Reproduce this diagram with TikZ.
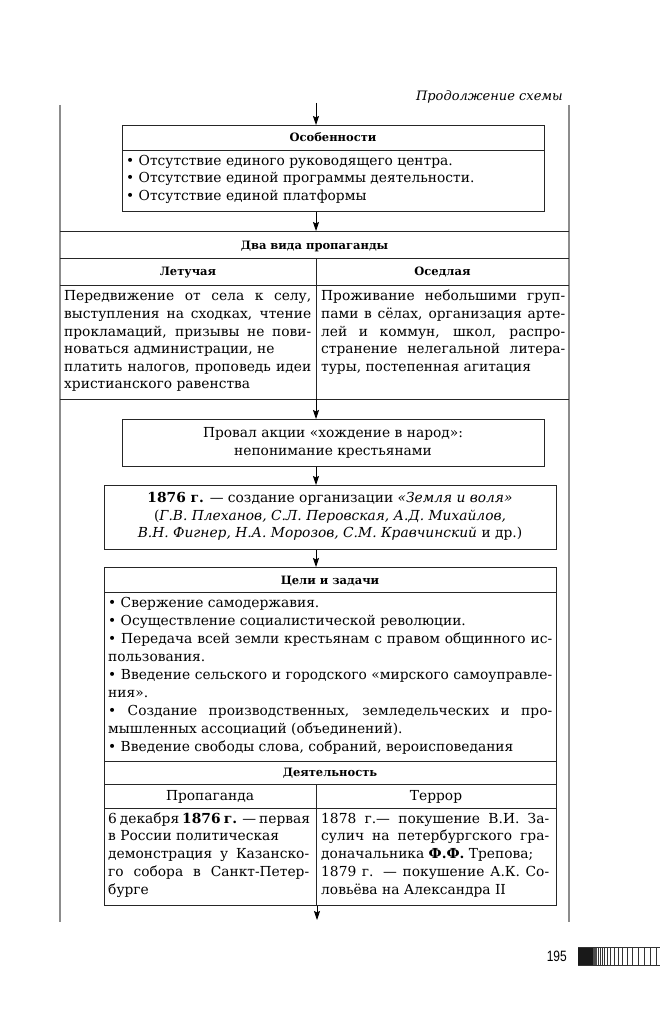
\documentclass[tikz,border=0pt]{standalone}
\usepackage{fontspec}
\setmainfont{DejaVu Serif}
\newfontfamily\pgnumfont{Liberation Sans}
\usepackage{graphicx}
\usetikzlibrary{arrows.meta}
\newcommand{\J}[2]{\makebox[#1pt][s]{\strut #2}}
\newcommand{\N}[1]{\strut #1}
\tikzset{
  frame/.style={draw=black!85, line width=0.8pt},
  sideline/.style={draw=black!45, line width=1.6pt},
  arr/.style={draw=black, line width=0.8pt, -{Stealth[length=9pt,width=6pt,inset=1.5pt]}},
  hd/.style={font=\fontsize{11.5}{14}\selectfont\bfseries, inner sep=0, anchor=base},
  txt/.style={font=\fontsize{13.8}{17.6}\selectfont, inner sep=0, anchor=north west, align=left},
  ctxt/.style={font=\fontsize{13.8}{17.6}\selectfont, inner sep=0, anchor=north, align=center},
  boxn/.style={anchor=north west, inner sep=0},
}
\begin{document}
\begin{tikzpicture}[x=1pt,y=-1pt]
\useasboundingbox[fill=white] (0,0) rectangle (660,1024);

% header
\node[font=\fontsize{13}{15}\selectfont\itshape, anchor=base east, inner sep=0] (cont) at (563,101) {Продолжение схемы};

% side lines
\coordinate (L1) at (60,105); \coordinate (L2) at (60,922);
\coordinate (R1) at (569,105); \coordinate (R2) at (569,922);
\draw[sideline] (L1) -- (L2);
\draw[sideline] (R1) -- (R2);

\coordinate (ax) at (316,0);
\coordinate (topa) at (316,103);

% ---- Особенности
\node[boxn, frame, minimum width=422, minimum height=86] (osob) at (122,125) {};
\draw[frame] (122,150) -- (544,150);
\node[hd] (osobT) at (333,141.5) {Особенности};
\node[txt, font=\fontsize{13.8}{17.5}\selectfont] (osobL) at (126,152.6) {%
\N{\textbullet\ Отсутствие единого руководящего центра.}\\
\N{\textbullet\ Отсутствие единой программы деятельности.}\\
\N{\textbullet\ Отсутствие единой платформы}};

% ---- Два вида пропаганды
\node[boxn, minimum width=509, minimum height=168] (dva) at (60,231) {};
\draw[frame] (dva.north west) -- (dva.north east);
\draw[frame] (60,258) -- (569,258);
\draw[frame] (60,285) -- (569,285);
\draw[frame] (dva.south west) -- (dva.south east);
\draw[frame] (316,258) -- (316,399);
\node[hd] (dvaT) at (314.5,249) {Два вида пропаганды};
\node[hd] (letT) at (188,275) {Летучая};
\node[hd] (osedT) at (442.5,275) {Оседлая};
\node[txt] (letL) at (64,288.4) {%
\J{247}{Передвижение от села к селу,}\\
\J{247}{выступления на сходках, чтение}\\
\J{247}{прокламаций, призывы не пови-}\\
\N{новаться администрации, не}\\
\J{247}{платить налогов, проповедь идеи}\\
\N{христианского равенства}};
\node[txt] (osedL) at (321,288.4) {%
\J{244}{Проживание небольшими груп-}\\
\J{244}{пами в сёлах, организация арте-}\\
\J{244}{лей и коммун, школ, распро-}\\
\J{244}{странение нелегальной литера-}\\
\N{туры, постепенная агитация}};

% ---- Провал
\node[boxn, frame, minimum width=422, minimum height=47] (prov) at (122,419) {};
\node[ctxt, font=\fontsize{13.8}{18}\selectfont] (provT) at (333,424.4) {%
\strut Провал акции «хождение в народ»:\\
\strut непонимание крестьянами};

% ---- 1876
\node[boxn, frame, minimum width=452, minimum height=64] (zem) at (104,485) {};
\node[ctxt, font=\fontsize{13.8}{17.5}\selectfont] (zemT) at (330,490.4) {%
\strut\textbf{1876 г.} — создание организации \textit{«Земля и воля»}\\
\strut(\textit{Г.В. Плеханов, С.Л. Перовская, А.Д. Михайлов,}\\
\strut\textit{В.Н. Фигнер, Н.А. Морозов, С.М. Кравчинский} и др.)};

% ---- Цели и задачи / Деятельность
\node[boxn, frame, minimum width=452, minimum height=338] (celi) at (104,567) {};
\draw[frame] (104,592) -- (556,592);
\draw[frame] (104,761) -- (556,761);
\draw[frame] (104,784) -- (556,784);
\draw[frame] (104,808) -- (556,808);
\draw[frame] (316,784) -- (316,905);
\node[hd] (celiT) at (330,584) {Цели и задачи};
\node[txt, font=\fontsize{13.8}{18}\selectfont] (celiL) at (108,594.4) {%
\N{\textbullet\ Свержение самодержавия.}\\
\N{\textbullet\ Осуществление социалистической революции.}\\
\J{444}{\textbullet\ Передача всей земли крестьянам с правом общинного ис-}\\
\N{пользования.}\\
\J{444}{\textbullet\ Введение сельского и городского «мирского самоуправле-}\\
\N{ния».}\\
\J{444}{\textbullet\ Создание производственных, земледельческих и про-}\\
\N{мышленных ассоциаций (объединений).}\\
\N{\textbullet\ Введение свободы слова, собраний, вероисповедания}};
\node[hd] (deyT) at (330,776.5) {Деятельность};
\node[font=\fontsize{13.8}{17.6}\selectfont, inner sep=0, anchor=base] (propT) at (210,800.5) {Пропаганда};
\node[font=\fontsize{13.8}{17.6}\selectfont, inner sep=0, anchor=base] (terT) at (436,800.5) {Террор};
\node[txt, font=\fontsize{13.8}{17.75}\selectfont] (propL) at (108,810.4) {%
\J{201}{6 декабря \textbf{1876 г.} — первая}\\
\N{в России политическая}\\
\J{201}{демонстрация у Казанско-}\\
\J{201}{го собора в Санкт-Петер-}\\
\N{бурге}};
\node[txt, font=\fontsize{13.8}{17.75}\selectfont] (terL) at (321,810.4) {%
\J{228}{1878 г.— покушение В.И. За-}\\
\J{228}{сулич на петербургского гра-}\\
\N{доначальника \textbf{Ф.Ф.} Трепова;}\\
\J{228}{1879 г. — покушение А.К. Со-}\\
\N{ловьёва на Александра II}};
\coordinate (bot) at (317,920);

% ---- arrows
\draw[arr] (topa) -- (topa |- osob.north);
\draw[arr] (osob.south -| ax) -- (dva.north -| ax);
\draw[arr] (dva.south -| ax) -- (prov.north -| ax);
\draw[arr] (prov.south -| ax) -- (zem.north -| ax);
\draw[arr] (zem.south -| ax) -- (celi.north -| ax);
\draw[arr] (celi.south -| bot) -- (bot);

% ---- page number and bar
\node[font=\pgnumfont\fontsize{15}{17}\selectfont, anchor=base east, inner sep=0] (pnum) at (567,961) {\scalebox{0.8}[1]{195}};
\node[boxn, minimum width=82, minimum height=18] (bar) at (578,947) {};
\fill[black!90] (578,947) rectangle (593,965);
\fill[black!70] (593,947) rectangle (597,965);
\draw[black!80, line width=0.5pt] (bar.north west) -- (bar.north east);
\draw[black!80, line width=0.5pt] (bar.south west) -- (bar.south east);
\foreach \xx in {598,600,602,604.5,607.5,610.5,614,618,622.5,627.5,632.5,638,644,650,656}
  \draw[black!80, line width=0.7pt] (\xx,947) -- (\xx,965);
\end{tikzpicture}
\end{document}
